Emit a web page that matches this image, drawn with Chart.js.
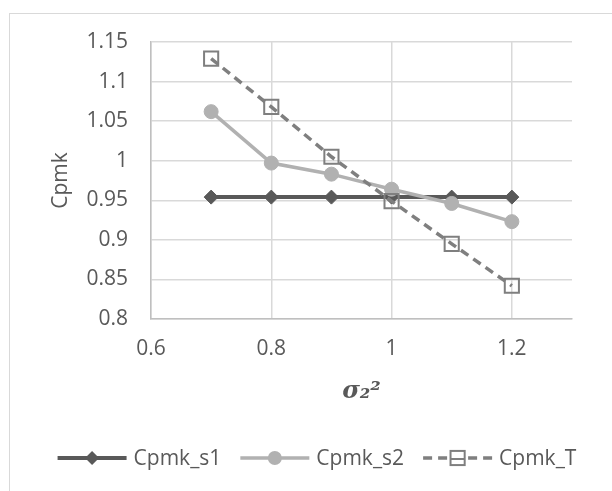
<!DOCTYPE html>
<html><head><meta charset="utf-8">
<script src="https://cdn.jsdelivr.net/npm/chart.js@4/dist/chart.umd.min.js"></script>
<style>html,body{margin:0;padding:0;background:#fff}#wrap{width:612px;height:491px}</style>
</head><body><div id="wrap"><canvas id="c" width="612" height="491"></canvas></div>
<script>
const xValues = [0.7, 0.8, 0.9, 1.0, 1.1, 1.2];
const cpmkS1 = [0.954, 0.954, 0.954, 0.954, 0.954, 0.954];
const cpmkS2 = [1.062, 0.997, 0.983, 0.964, 0.946, 0.923];
const cpmkT  = [1.129, 1.068, 1.005, 0.949, 0.895, 0.842];
const seriesNames = ['Cpmk_s1', 'Cpmk_s2', 'Cpmk_T'];
const xTickValues = [0.6, 0.8, 1.0, 1.2];
const yTickValues = [0.8, 0.85, 0.9, 0.95, 1.0, 1.05, 1.1, 1.15];
const xTitle = 'σ₂²';
const yTitle = 'Cpmk';

const FONT = "'Open Sans', 'Liberation Sans', sans-serif";
const TXT = '#595959';
const pts = arr => arr.map((v, i) => ({x: xValues[i], y: v}));
const fmt = v => String(+(+v).toFixed(2));

const legendPlugin = {
  id: 'customLegend',
  afterDraw(chart) {
    const ctx = chart.ctx;
    ctx.save();
    ctx.font = '21px ' + FONT;
    const lineLen = 69, gap = 7, spacing = 19;
    const items = chart.data.datasets.map(ds => ({ds, w: lineLen + gap + ctx.measureText(ds.label).width}));
    const total = items.reduce((a, it) => a + it.w, 0) + spacing * (items.length - 1);
    let x = 317 - total / 2;
    const y = 458;
    items.forEach(it => {
      const ds = it.ds;
      ctx.strokeStyle = ds.borderColor;
      ctx.lineWidth = ds.borderWidth;
      ctx.setLineDash(ds.borderDash || []);
      ctx.beginPath(); ctx.moveTo(x, y); ctx.lineTo(x + lineLen, y); ctx.stroke();
      ctx.setLineDash([]);
      ctx.fillStyle = ds.pointBackgroundColor; ctx.strokeStyle = ds.pointBorderColor;
      ctx.lineWidth = ds.pointBorderWidth;
      ctx.beginPath();
      const r = ds.pointRadius, cx = x + lineLen / 2;
      if (ds.pointStyle === 'rectRot') { ctx.moveTo(cx, y - r); ctx.lineTo(cx + r, y); ctx.lineTo(cx, y + r); ctx.lineTo(cx - r, y); ctx.closePath(); ctx.fill(); }
      else if (ds.pointStyle === 'circle') { ctx.arc(cx, y, r, 0, Math.PI * 2); ctx.fill(); }
      else { const s = r * Math.SQRT1_2; ctx.fillStyle = '#fff'; ctx.fillRect(cx - s, y - s, 2 * s, 2 * s); ctx.strokeRect(cx - s, y - s, 2 * s, 2 * s);
        ctx.beginPath(); ctx.strokeStyle = ds.borderColor; ctx.lineWidth = 2; ctx.moveTo(cx - s, y + 1); ctx.lineTo(cx + s, y + 1); ctx.stroke(); }
      ctx.fillStyle = TXT; ctx.textAlign = 'left'; ctx.textBaseline = 'middle';
      ctx.fillText(ds.label, x + lineLen + gap, y + 1);
      x += it.w + spacing;
    });
    ctx.restore();
  },
  beforeDraw(chart) {
    const ctx = chart.ctx;
    ctx.save();
    ctx.fillStyle = '#fff'; ctx.fillRect(0, 0, chart.width, chart.height);
    ctx.strokeStyle = '#d9d9d9'; ctx.lineWidth = 1;
    ctx.strokeRect(9.5, 13.5, 700, 600);
    ctx.restore();
  }
};

new Chart(document.getElementById('c'), {
  type: 'scatter',
  data: {
    datasets: [
      {label: seriesNames[0], data: pts(cpmkS1), showLine: true, borderColor: '#595959', backgroundColor: '#595959',
       borderWidth: 4, pointStyle: 'rectRot', pointRadius: 7, pointBackgroundColor: '#595959', pointBorderColor: '#595959', pointBorderWidth: 1, order: 3},
      {label: seriesNames[1], data: pts(cpmkS2), showLine: true, borderColor: '#b1b1b1', backgroundColor: '#b1b1b1',
       borderWidth: 3.5, pointStyle: 'circle', pointRadius: 7, pointBackgroundColor: '#b1b1b1', pointBorderColor: '#b1b1b1', pointBorderWidth: 1, order: 2},
      {label: seriesNames[2], data: pts(cpmkT), showLine: true, borderColor: '#7f7f7f', backgroundColor: 'rgba(0,0,0,0)',
       borderWidth: 3.5, borderDash: [9, 6], pointStyle: 'rect', pointRadius: 10, pointBackgroundColor: 'rgba(0,0,0,0)', pointBorderColor: '#7f7f7f', pointBorderWidth: 2, order: 1}
    ]
  },
  options: {
    responsive: false, animation: false, devicePixelRatio: 1,
    layout: {padding: {left: 44, top: 42, right: 40, bottom: 83}},
    plugins: {legend: {display: false}, tooltip: {enabled: false}},
    scales: {
      x: {
        type: 'linear', min: 0.6, max: 1.3,
        afterBuildTicks: s => { s.ticks = xTickValues.map(v => ({value: v})); },
        afterFit: s => { s.height = 89; },
        ticks: {callback: v => fmt(v), color: TXT, font: {family: FONT, size: 21}, padding: 17},
        grid: {color: '#d9d9d9', lineWidth: 1.5, drawTicks: false},
        border: {color: '#bfbfbf', width: 1.5},
        title: {display: true, text: xTitle, color: TXT, font: {family: 'DejaVu Serif', size: 24, weight: 'bold', style: 'italic'}, padding: {top: 0, bottom: 2}}
      },
      y: {
        min: 0.8, max: 1.15,
        afterBuildTicks: s => { s.ticks = yTickValues.map(v => ({value: v})); },
        afterFit: s => { s.width = 107; },
        ticks: {callback: v => fmt(v), color: TXT, font: {family: FONT, size: 21}, padding: 23},
        grid: {color: '#d9d9d9', lineWidth: 1.5, drawTicks: false},
        border: {color: '#bfbfbf', width: 1.5},
        title: {display: true, text: yTitle, color: TXT, font: {family: FONT, size: 21}, padding: {top: 4, bottom: 0}}
      }
    }
  },
  plugins: [legendPlugin]
});
</script></body></html>
